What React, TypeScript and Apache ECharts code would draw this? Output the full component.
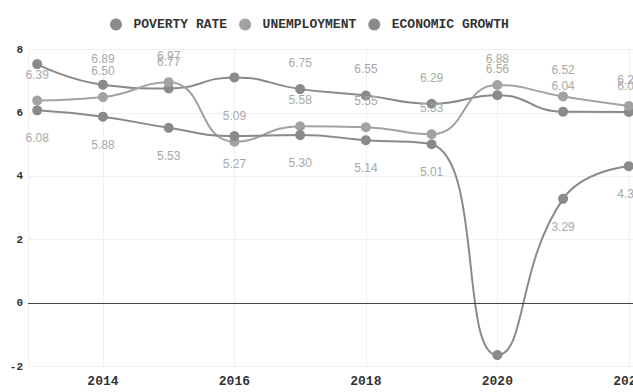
import React, { useEffect, useRef } from "react";
import * as echarts from "echarts";

const years = [2013, 2014, 2015, 2016, 2017, 2018, 2019, 2020, 2021, 2022];
const povertyRate = [7.54, 6.89, 6.77, 7.12, 6.75, 6.55, 6.29, 6.56, 6.04, 6.03];
const unemployment = [6.39, 6.5, 6.97, 5.09, 5.58, 5.55, 5.33, 6.88, 6.52, 6.22];
const economicGrowth = [6.08, 5.88, 5.53, 5.27, 5.3, 5.14, 5.01, -1.64, 3.29, 4.32];
const seriesNames = ["POVERTY RATE", "UNEMPLOYMENT", "ECONOMIC GROWTH"];
// indices of points whose value label is not shown, per series
const hiddenLabels = [[0, 3], [], [7]];

const MONO = "'Courier New', 'Liberation Mono', monospace";
const SANS = "'Liberation Sans', Arial, sans-serif";

function buildData(values: number[], hidden: number[]) {
  return values.map((v, i) => {
    const item: any = { value: [years[i], v] };
    if (hidden.includes(i)) item.label = { show: false };
    return item;
  });
}

export default function App() {
  const ref = useRef<HTMLDivElement>(null);

  useEffect(() => {
    if (!ref.current) return;
    const chart = echarts.init(ref.current, undefined, { renderer: "svg" });
    const colors = ["#8a8a8a", "#a2a2a2", "#8a8a8a"];
    const all = [povertyRate, unemployment, economicGrowth];
    const series: any[] = all.map((vals, si) => ({
      name: seriesNames[si],
      type: "line",
      smooth: true,
      symbol: "circle",
      symbolSize: 10,
      data: buildData(vals, hiddenLabels[si]),
      lineStyle: { width: 2, color: colors[si] },
      itemStyle: { color: colors[si] },
      label: {
        show: true,
        position: si === 2 ? "bottom" : "top",
        distance: si === 2 ? 17 : 15,
        color: "#a8a8a8",
        fontSize: 12,
        fontFamily: SANS,
        formatter: (p: any) => p.value[1].toFixed(2),
      },
      markLine:
        si === 0
          ? {
              silent: true,
              symbol: "none",
              label: { show: false },
              lineStyle: { color: "#444", width: 1, type: "solid" },
              data: [{ yAxis: 0 }],
            }
          : undefined,
    }));

    chart.setOption({
      animation: false,
      color: colors,
      legend: {
        data: seriesNames,
        left: 105,
        top: 13,
        icon: "circle",
        itemWidth: 25,
        itemHeight: 12,
        itemGap: 12,
        textStyle: {
          fontFamily: MONO,
          fontWeight: "bold",
          fontSize: 13,
          color: "#333",
        },
      },
      grid: { left: 28, right: 22, top: 49.5, bottom: 25.5 },
      xAxis: {
        type: "value",
        min: 2012.86,
        max: 2022.14,
        splitNumber: 5,
        axisLine: { show: false },
        axisTick: { show: false },
        axisLabel: {
          fontFamily: MONO,
          fontWeight: "bold",
          fontSize: 13,
          color: "#333",
          showMinLabel: false,
          showMaxLabel: false,
          formatter: (v: number) => (Number.isInteger(v) ? String(v) : ""),
        },
        splitLine: { show: true, lineStyle: { color: "#f0f0f0" } },
      },
      yAxis: {
        type: "value",
        min: -2,
        max: 8,
        interval: 2,
        axisLine: { show: false },
        axisTick: { show: false },
        axisLabel: {
          fontFamily: MONO,
          fontWeight: "bold",
          fontSize: 11,
          color: "#333",
          margin: 5,
        },
        splitLine: { show: true, lineStyle: { color: "#f0f0f0" } },
      },
      series,
    });
    return () => chart.dispose();
  }, []);

  return (
    <div
      style={{
        position: "fixed",
        left: 0,
        top: 0,
        width: 633,
        height: 392,
        overflow: "hidden",
        background: "#fff",
      }}
    >
      <div ref={ref} style={{ width: 660, height: 392 }} />
    </div>
  );
}
